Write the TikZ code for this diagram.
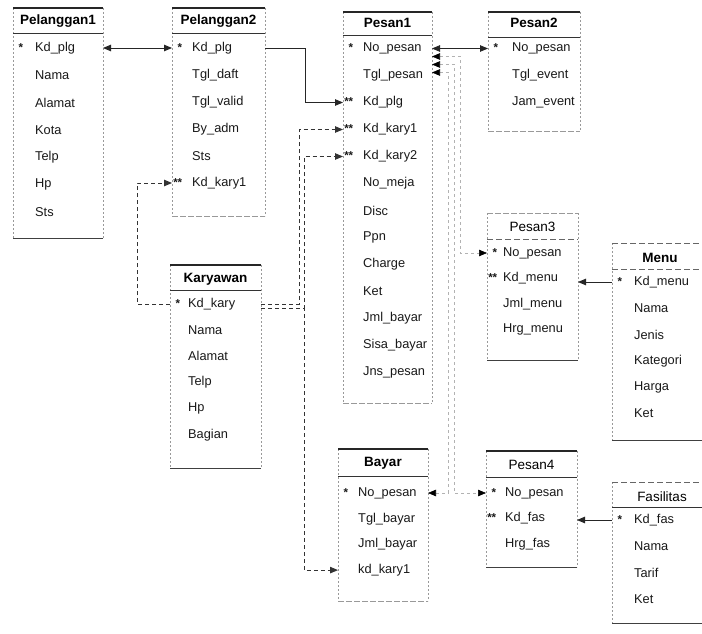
\documentclass[tikz,border=0pt]{standalone}
\usepackage{fontspec}
\setmainfont{Liberation Sans}
\usetikzlibrary{arrows.meta}
\tikzset{
  ttop/.style={line width=1.3pt, black!85},
  tbot/.style={line width=0.9pt, black!75},
  tfaint/.style={line width=0.6pt, black!40, dash pattern=on 6pt off 2pt},
  thead/.style={line width=0.9pt, black!80},
  tdash/.style={line width=0.8pt, black!60, dash pattern=on 6pt off 3pt},
  tside/.style={line width=0.5pt, black!40, dash pattern=on 2pt off 2pt},
  ttl/.style={font=\fontsize{13.5}{15}\selectfont\bfseries, inner sep=0},
  ttlr/.style={font=\fontsize{13.5}{15}\selectfont, inner sep=0},
  trow/.style={font=\fontsize{12.8}{14}\selectfont, anchor=west, inner xsep=0, inner ysep=1pt, text=black!90},
  >={Triangle[length=8pt,width=6.5pt]},
  link/.style={line width=0.9pt, black!85},
  dlink/.style={line width=0.9pt, black!80, dash pattern=on 4pt off 3pt},
  flink/.style={line width=0.6pt, black!30, dash pattern=on 3pt off 3pt},
}
\newcommand\mktable[5]{%
  \pgfmathsetmacro\tw{#4-#2}\pgfmathsetmacro\th{#5-#3}%
  \node[inner sep=0, outer sep=0, minimum width=\tw pt, minimum height=\th pt, anchor=north west] (#1) at (#2,#3) {};
  \draw[tside] (#1.north west) -- (#1.south west);
  \draw[tside] (#1.north east) -- (#1.south east);
}
\newcommand\mkrows[5]{%
  \foreach \rk/\rt [count=\ri] in {#5} {
    \pgfmathsetmacro\yy{#3+#4*(\ri-1)}
    \node[trow] (#1-\ri) at (#1.west |- 0,\yy) {\makebox[#2pt][l]{\makebox[10pt][r]{\fontsize{11.5}{11}\selectfont\bfseries\rk}}\rt};
  }
}
\begin{document}
\begin{tikzpicture}[x=1pt,y=-1pt]
\fill[white] (0,0) rectangle (702,634);
\useasboundingbox (0,0) rectangle (702,634);

% ---------- Pelanggan1
\mktable{pel1}{13}{8}{103}{238}
\draw[ttop] (pel1.north west) -- (pel1.north east);
\draw[thead] (pel1.west |- 0,33) -- (pel1.east |- 0,33);
\draw[tbot] (pel1.south west) -- (pel1.south east);
\node[ttl] (pel1-t) at (pel1.north |- 0,21) {Pelanggan1};
\mkrows{pel1}{22}{48}{27.3}{{*}/Kd\_plg, {}/Nama, {}/Alamat, {}/Kota, {}/Telp, {}/Hp, {}/Sts}

% ---------- Pelanggan2
\mktable{pel2}{172}{8}{265}{216}
\draw[ttop] (pel2.north west) -- (pel2.north east);
\draw[thead] (pel2.west |- 0,33) -- (pel2.east |- 0,33);
\draw[tfaint] (pel2.south west) -- (pel2.south east);
\node[ttl] (pel2-t) at (pel2.north |- 0,21) {Pelanggan2};
\mkrows{pel2}{20}{48}{27}{{*}/Kd\_plg, {}/Tgl\_daft, {}/Tgl\_valid, {}/By\_adm, {}/Sts, {**}/Kd\_kary1}

% ---------- Pesan1
\mktable{p1}{343}{12}{432}{403}
\draw[ttop] (p1.north west) -- (p1.north east);
\draw[thead] (p1.west |- 0,35) -- (p1.east |- 0,35);
\draw[tfaint] (p1.south west) -- (p1.south east);
\node[ttl] (p1-t) at (p1.north |- 0,23) {Pesan1};
\mkrows{p1}{20}{48.5}{27}{{*}/No\_pesan, {}/Tgl\_pesan, {**}/Kd\_plg, {**}/Kd\_kary1, {**}/Kd\_kary2, {}/No\_meja, {}/Disc, {}/Ppn, {}/Charge, {}/Ket, {}/Jml\_bayar, {}/Sisa\_bayar, {}/Jns\_pesan}

% ---------- Pesan2
\mktable{p2}{488}{12}{580}{131}
\draw[ttop] (p2.north west) -- (p2.north east);
\draw[thead] (p2.west |- 0,37) -- (p2.east |- 0,37);
\draw[tfaint] (p2.south west) -- (p2.south east);
\node[ttl] (p2-t) at (p2.north |- 0,23) {Pesan2};
\mkrows{p2}{24}{48.5}{27}{{*}/No\_pesan, {}/Tgl\_event, {}/Jam\_event}

% ---------- Pesan3
\mktable{p3}{487}{213}{578}{360}
\draw[tfaint] (p3.north west) -- (p3.north east);
\draw[tdash] (p3.west |- 0,239) -- (p3.east |- 0,239);
\draw[tbot] (p3.south west) -- (p3.south east);
\node[ttlr] (p3-t) at (p3.north |- 0,227) {Pesan3};
\mkrows{p3}{16}{253}{25.5}{{*}/No\_pesan, {**}/Kd\_menu, {}/Jml\_menu, {}/Hrg\_menu}

% ---------- Menu
\mktable{menu}{612}{243}{708}{440}
\draw[tdash] (menu.north west) -- (menu.north east);
\draw[tdash] (menu.west |- 0,269) -- (menu.east |- 0,269);
\draw[tbot] (menu.south west) -- (menu.south east);
\node[ttl] (menu-t) at (menu.north |- 0,258) {Menu};
\mkrows{menu}{22}{282}{26.3}{{*}/Kd\_menu, {}/Nama, {}/Jenis, {}/Kategori, {}/Harga, {}/Ket}

% ---------- Karyawan
\mktable{kar}{170}{265}{261}{468}
\draw[ttop] (kar.north west) -- (kar.north east);
\draw[thead] (kar.west |- 0,290) -- (kar.east |- 0,290);
\draw[tbot] (kar.south west) -- (kar.south east);
\node[ttl] (kar-t) at (kar.north |- 0,279) {Karyawan};
\mkrows{kar}{18}{304}{26.2}{{*}/Kd\_kary, {}/Nama, {}/Alamat, {}/Telp, {}/Hp, {}/Bagian}

% ---------- Bayar
\mktable{bay}{338}{449}{428}{601}
\draw[ttop] (bay.north west) -- (bay.north east);
\draw[thead] (bay.west |- 0,476) -- (bay.east |- 0,476);
\draw[tfaint] (bay.south west) -- (bay.south east);
\node[ttl] (bay-t) at (bay.north |- 0,463) {Bayar};
\mkrows{bay}{20}{493}{25.7}{{*}/No\_pesan, {}/Tgl\_bayar, {}/Jml\_bayar, {}/kd\_kary1}

% ---------- Pesan4
\mktable{p4}{486}{451}{577}{567}
\draw[ttop] (p4.north west) -- (p4.north east);
\draw[thead] (p4.west |- 0,477) -- (p4.east |- 0,477);
\draw[tbot] (p4.south west) -- (p4.south east);
\node[ttlr] (p4-t) at (p4.north |- 0,465) {Pesan4};
\mkrows{p4}{19}{493}{25.5}{{*}/No\_pesan, {**}/Kd\_fas, {}/Hrg\_fas}

% ---------- Fasilitas
\mktable{fas}{612}{482}{712}{623}
\draw[tdash] (fas.north west) -- (fas.north east);
\draw[thead] (fas.west |- 0,507) -- (fas.east |- 0,507);
\draw[tbot] (fas.south west) -- (fas.south east);
\node[ttlr] (fas-t) at (fas.north |- 0,497) {Fasilitas};
\mkrows{fas}{22}{520}{26.5}{{*}/Kd\_fas, {}/Nama, {}/Tarif, {}/Ket}

% ---------- connectors
\draw[link,<->] (pel1.east |- pel1-1) -- (pel2-1.west);
\draw[link,->] (pel2.east |- pel2-1) -- ++(40,0) |- (p1-3.west);
\draw[dlink,->] (kar-1.west) -- ++(-33,0) |- (pel2-6.west);
\draw[dlink,->] (kar.east |- kar-1) -- ++(38,0) |- (p1-4.west);
\draw[dlink,->] (kar.east |- kar-1) ++(0,4) -- ++(43,0) |- (p1-5.west);
\draw[dlink,->] (kar.east |- kar-1) ++(0,4) -- ++(43,0) |- (bay-4.west);

\draw[link,<->] (p1.east |- p1-1) -- (p2-1.west);
\draw[flink,{Triangle[length=8pt,width=6.5pt,color=black]}-{Triangle[length=8pt,width=6.5pt,color=black]}]
  (p1.east |- p1-1) ++(0,8) -- ++(28,0) |- (p3-1.west);
\draw[flink,{Triangle[length=8pt,width=6.5pt,color=black]}-{Triangle[length=8pt,width=6.5pt,color=black]}]
  (p1.east |- p1-1) ++(0,16) -- ++(22,0) |- (p4-1.west);
\draw[flink,{Triangle[length=8pt,width=6.5pt,color=black]}-{Triangle[length=8pt,width=6.5pt,color=black]}]
  (p1.east |- p1-1) ++(0,24) -- ++(16,0) |- (bay.east |- bay-1);

\draw[link,->] (menu-1.west) -- (p3.east |- menu-1);
\draw[link,->] (fas-1.west) -- (p4.east |- fas-1);
\end{tikzpicture}
\end{document}
